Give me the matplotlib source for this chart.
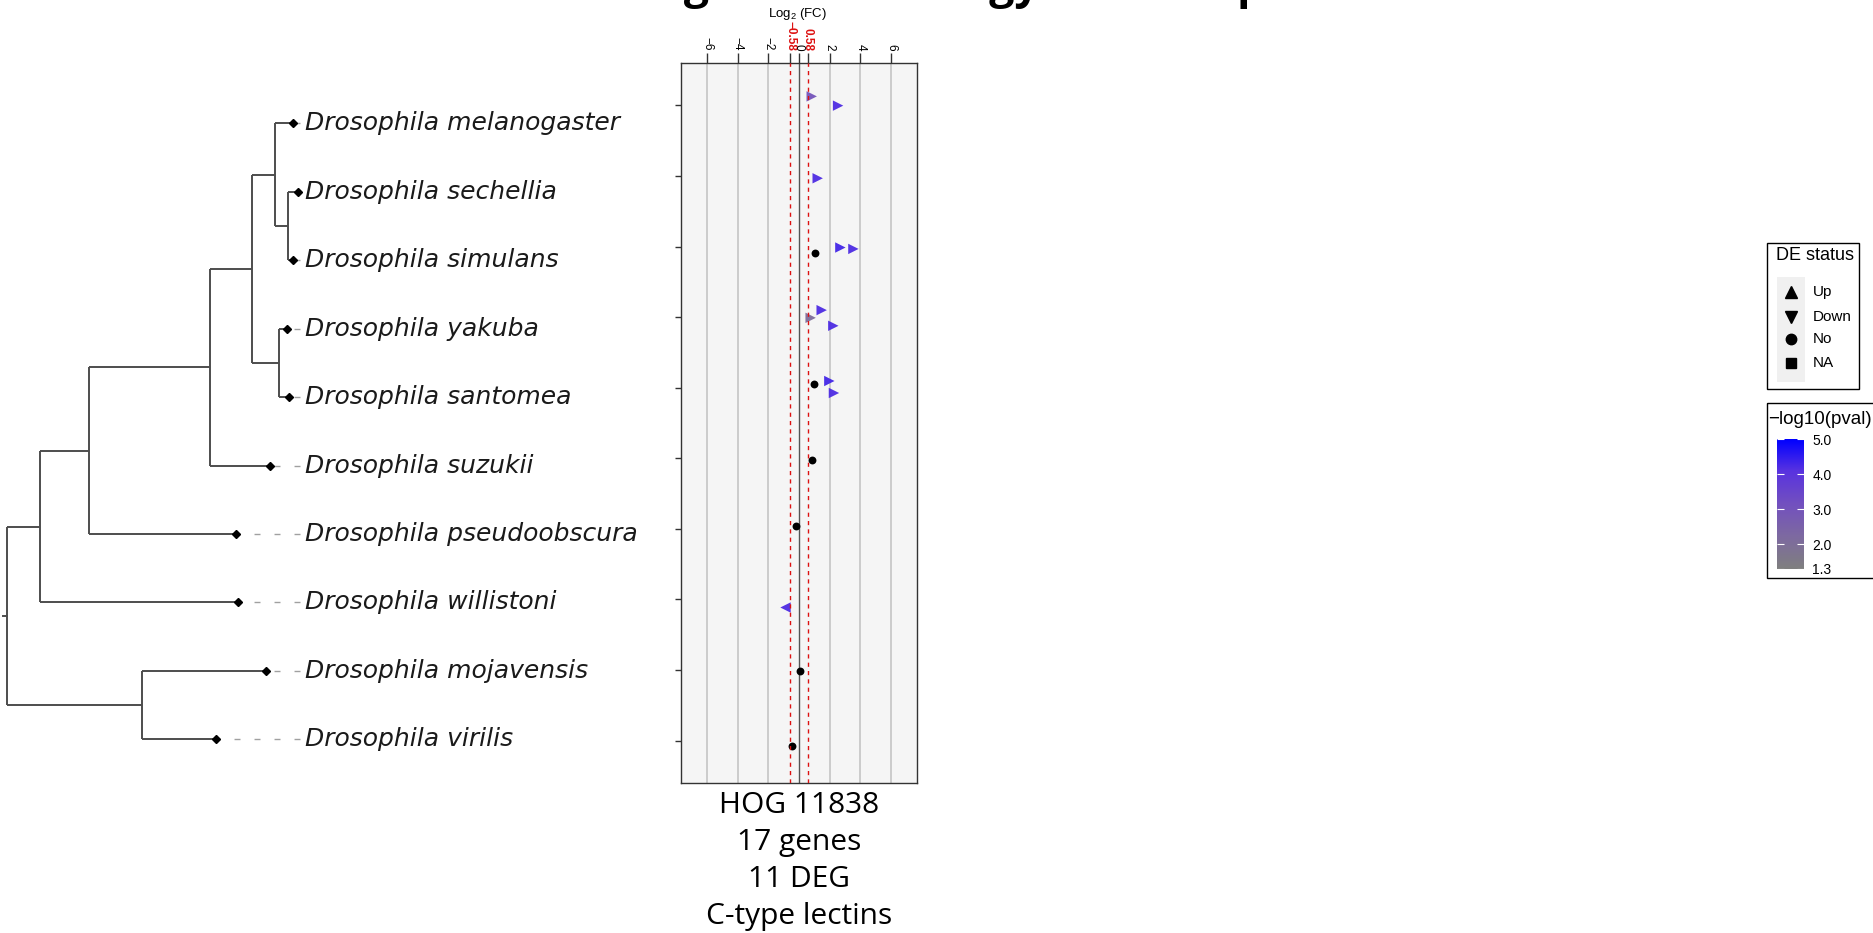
import numpy as np
import matplotlib
matplotlib.use("Agg")
import matplotlib.pyplot as plt
from matplotlib.colors import LinearSegmentedColormap, Normalize
from matplotlib.colorbar import ColorbarBase
from matplotlib.patches import Rectangle

plt.rcParams["mathtext.fontset"] = "custom"
plt.rcParams["mathtext.rm"] = "Liberation Sans"
plt.rcParams["mathtext.it"] = "Liberation Sans:italic"

W, H = 1874, 933

# ---- data ----
species = ["Drosophila melanogaster", "Drosophila sechellia", "Drosophila simulans",
           "Drosophila yakuba", "Drosophila santomea", "Drosophila suzukii",
           "Drosophila pseudoobscura", "Drosophila willistoni",
           "Drosophila mojavensis", "Drosophila virilis"]

# species tree: node -> (child, branch length)
tree = {
    "root": [("n1", 0.33), ("n8", 1.344)],
    "n1": [("n2", 0.49), ("Drosophila willistoni", 1.98)],
    "n2": [("n3", 1.207), ("Drosophila pseudoobscura", 1.467)],
    "n3": [("n4", 0.423), ("Drosophila suzukii", 0.60)],
    "n4": [("n5", 0.23), ("n7", 0.27)],
    "n5": [("Drosophila melanogaster", 0.18), ("n6", 0.124)],
    "n6": [("Drosophila sechellia", 0.106), ("Drosophila simulans", 0.056)],
    "n7": [("Drosophila yakuba", 0.074), ("Drosophila santomea", 0.10)],
    "n8": [("Drosophila mojavensis", 1.24), ("Drosophila virilis", 0.743)],
}

# genes of HOG 11838
gene_species = [0, 0, 1, 2, 2, 2, 3, 3, 3, 4, 4, 4, 5, 6, 7, 8, 9]
gene_lfc = [0.83, 2.55, 1.22, 1.05, 2.70, 3.55, 1.48, 0.76, 2.24,
            0.96, 1.98, 2.28, 0.85, -0.20, -0.93, 0.09, -0.43]
gene_jitter = [-0.127, 0.004, 0.033, 0.085, 0.014, 0.034, -0.099, 0.010, 0.123,
               -0.057, -0.095, 0.075, 0.028, -0.037, 0.113, 0.018, 0.079]
gene_status = ["Up", "Up", "Up", "No", "Up", "Up", "Up", "Up", "Up",
               "No", "Up", "Up", "No", "No", "Down", "No", "No"]
gene_logp = [3.0, 4.2, 4.2, np.nan, 4.3, 4.2, 4.2, 2.1, 4.2,
             np.nan, 4.3, 4.2, np.nan, np.nan, 4.2, np.nan, np.nan]

fc_ticks = [-6, -4, -2, -0.58, 0, 0.58, 2, 4, 6]
fc_labels = ["\u22126", "\u22124", "\u22122", "\u22120.58", "0", "0.58", "2", "4", "6"]
pval_ticks = [1.3, 2, 3, 4, 5]
hog_text = "HOG 11838\n17 genes\n11 DEG\nC-type lectins"
status_names = ["Up", "Down", "No", "NA"]
status_legend_markers = ["^", "v", "o", "s"]

# grey50 -> blue, interpolated in Lab like ggplot
cmap = LinearSegmentedColormap.from_list(
    "pv", [(0, "#7f7f7f"), (0.25, "#7d69a0"), (0.5, "#7250bf"),
           (0.75, "#5933df"), (1, "#0000ff")])
norm = Normalize(1.3, 5.0)


def fx(px):
    return px / W


def fy(py):
    return 1 - py / H


fig = plt.figure(figsize=(W / 100, H / 100), dpi=100)

# ---- tree ----
pos = {}


def layout(node, x):
    if node not in tree:
        pos[node] = (x, species.index(node) + 1)
        return
    ys = []
    for child, bl in tree[node]:
        layout(child, x + bl)
        ys.append(pos[child][1])
    pos[node] = (x, np.mean(ys))


layout("root", 0.0)

tax = fig.add_axes([0, fy(773.6), fx(660), (773.6 - 89.1) / H])
tax.set_xlim(-0.073, 6.527)
tax.set_ylim(10.5, 0.5)
tax.axis("off")
lc = "#4d4d4d"
for node, kids in tree.items():
    x0, _ = pos[node]
    ys = [pos[c][1] for c, _ in kids]
    tax.plot([x0, x0], [min(ys), max(ys)], color=lc, lw=1.4, solid_capstyle="butt")
    for c, _ in kids:
        tax.plot([x0, pos[c][0]], [pos[c][1]] * 2, color=lc, lw=1.4, solid_capstyle="butt")
rx, ry = pos["root"]
tax.plot([rx - 0.04, rx], [ry, ry], color=lc, lw=1.4)
align_x = 2.927
for sp in species:
    x, y = pos[sp]
    if x < align_x - 0.03:
        tax.plot([align_x, x], [y, y], color="#a0a0a0", lw=1, dashes=(4.3, 10.1))
    tax.plot(x, y, "D", ms=4, color="black")
    tax.text(align_x + 0.05, y, sp, style="italic", fontsize=18, va="center",
             ha="left", color="#1a1a1a", family="DejaVu Sans")

# ---- log2 FC panel ----
ax = fig.add_axes([fx(681), fy(783), 236 / W, 720 / H])
ax.set_facecolor("#f5f5f5")
ax.set_xlim(-7.7, 7.7)
ax.set_ylim(10.6, 0.4)
for v in [-6, -4, -2, 2, 4, 6]:
    ax.axvline(v, color="#c8c8c8", lw=1.3, zorder=0.5)
ax.axvline(0, color="#555555", lw=1, zorder=0.6)

marker_of = {"Up": ">", "Down": "<", "No": "o"}
for st in ["No", "Up", "Down"]:
    idx = [i for i, s in enumerate(gene_status) if s == st]
    if not idx:
        continue
    xs = [gene_lfc[i] for i in idx]
    ys = [gene_species[i] + 1 + gene_jitter[i] for i in idx]
    if st == "No":
        ax.scatter(xs, ys, marker="o", s=32, color="black", zorder=3, linewidths=0)
    else:
        ax.scatter(xs, ys, marker=marker_of[st], s=56, c=[gene_logp[i] for i in idx],
                   cmap=cmap, norm=norm, zorder=3, linewidths=0, alpha=0.95)

for v in [-0.58, 0.58]:
    ax.axvline(v, color="#dd1111", lw=1, dashes=(3, 3), zorder=4)

ax.xaxis.tick_top()
ax.set_xticks(fc_ticks)
ax.set_xticklabels(fc_labels, rotation=-90, fontsize=8.5, family="Liberation Sans")
for t, lab in zip(ax.xaxis.get_major_ticks(), fc_labels):
    if "58" in lab:
        t.label2.set_color("#dd1111")
        t.label2.set_fontweight("bold")
        t.tick2line.set_visible(False)
ax.set_yticks(range(1, len(species) + 1))
ax.set_yticklabels([])
ax.tick_params(axis="x", top=True, bottom=False, length=7, width=1, color="#333333", pad=2)
ax.tick_params(axis="y", length=4, width=1, color="#333333")
for s in ax.spines.values():
    s.set_color("#333333")
    s.set_linewidth(1)

fig.text(fx(798), fy(14), r"Log$_2$ (FC)", ha="center", va="center", fontsize=9.5,
         family="Liberation Sans")
fig.text(fx(799), fy(791), hog_text, ha="center", va="top", fontsize=21.5,
         family="Open Sans", linespacing=1.37)

# figure title, cut off at the top edge as in the original
fig.text(fx(601), fy(-2), "Fungal immunology of Drosophila", ha="left", va="baseline",
         fontsize=32, weight="bold", family="Open Sans")

# ---- legends ----
lax = fig.add_axes([0, 0, 1, 1])
lax.set_xlim(0, W)
lax.set_ylim(H, 0)
lax.axis("off")
lax.add_patch(Rectangle((1767, 243), 92, 146, fill=False, ec="black", lw=1))
lax.text(1776, 256, "DE status", fontsize=13, va="center", ha="left", family="Liberation Sans")
lax.add_patch(Rectangle((1777, 277), 28, 105, color="#f0f0f0", lw=0))
key_y = [291.7, 316.7, 339.3, 363.3]
key_ms = [9, 9, 7.5, 6.5]
for name, mk, yy, ms in zip(status_names, status_legend_markers, key_y, key_ms):
    lax.plot(1791, yy, mk, ms=ms, color="black")
    lax.text(1813, yy, name, fontsize=11, va="center", ha="left", family="Liberation Sans")

lax.add_patch(Rectangle((1767, 403), 120, 175, fill=False, ec="black", lw=1))
lax.text(1768, 420, "\u2212log10(pval)", fontsize=13.5, va="center", ha="left",
         family="Liberation Sans")

cax = fig.add_axes([fx(1777), fy(569), 27 / W, 130 / H])
cb = ColorbarBase(cax, cmap=cmap, norm=norm, orientation="vertical", ticks=pval_ticks)
cb.outline.set_visible(False)
cax.set_yticklabels(["%.1f" % t for t in pval_ticks], family="Liberation Sans")
cax.tick_params(left=True, right=True, direction="in", length=5, color="white",
                labelsize=10, pad=6)

fig.savefig("out.png", dpi=100)
